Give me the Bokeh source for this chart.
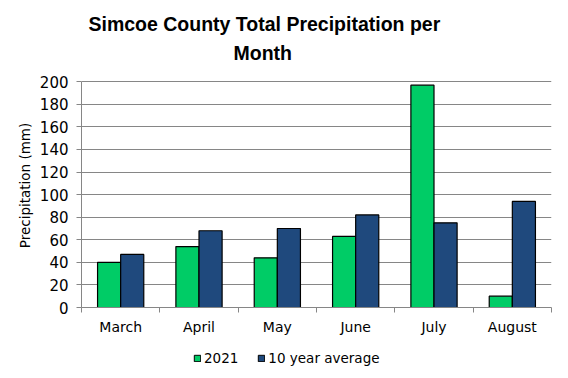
import numpy as np
from bokeh.plotting import figure
from bokeh.layouts import column
from bokeh.models import (ColumnDataSource, Range1d, FixedTicker, Title, Legend,
                          LegendItem)
from bokeh.embed import file_html
from bokeh.resources import INLINE

months = ["March", "April", "May", "June", "July", "August"]
precip_2021 = [40, 54, 44, 63, 197, 10]
precip_10yr = [47, 68, 70, 82, 75, 94]
y_ticks = [0, 20, 40, 60, 80, 100, 120, 140, 160, 180, 200]
series_names = ["2021", "10 year average"]

GREEN = "#00CC66"
BLUE = "#1F497D"
GRID = "#868686"
FONT = "DejaVu Sans"
TFONT = "Liberation Sans"

idx = np.arange(len(months))
bar_w = 0.295
src = ColumnDataSource(dict(
    x1=idx + 0.5 - bar_w / 2,
    x2=idx + 0.5 + bar_w / 2,
    v1=precip_2021,
    v2=precip_10yr,
))

p = figure(width=552, height=340, output_backend="svg", toolbar_location=None,
           x_range=Range1d(0, len(months)), y_range=Range1d(0, 216.2),
           min_border_left=81, min_border_right=1, min_border_top=63,
           min_border_bottom=33)
p.outline_line_color = None
p.background_fill_color = "white"
p.border_fill_color = "white"

p.vbar(x="x1", top="v1", width=bar_w, source=src, fill_color=GREEN,
       line_color="black", line_width=1.2)
p.vbar(x="x2", top="v2", width=bar_w, source=src, fill_color=BLUE,
       line_color="black", line_width=1.2)

# y axis
p.yaxis.ticker = FixedTicker(ticks=y_ticks)
p.yaxis.bounds = (0, 200)
p.yaxis.axis_line_color = GRID
p.yaxis.major_tick_line_color = GRID
p.yaxis.major_tick_out = 5
p.yaxis.major_tick_in = 0
p.yaxis.minor_tick_line_color = None
p.yaxis.major_label_text_font = FONT
p.yaxis.major_label_text_font_size = "15px"
p.yaxis.major_label_text_color = "black"
p.yaxis.major_label_standoff = 8
p.yaxis.axis_label = "Precipitation (mm)"
p.yaxis.axis_label_text_font = FONT
p.yaxis.axis_label_text_font_size = "13.5px"
p.yaxis.axis_label_text_font_style = "normal"
p.yaxis.axis_label_text_color = "black"
p.yaxis.axis_label_standoff = 4

# x axis: labels at centers, tick marks at category boundaries
p.xaxis.ticker = FixedTicker(ticks=list(idx + 0.5),
                             minor_ticks=list(range(len(months) + 1)))
p.xaxis.major_label_overrides = {float(i + 0.5): m for i, m in enumerate(months)}
p.xaxis.major_tick_line_color = None
p.xaxis.minor_tick_line_color = GRID
p.xaxis.minor_tick_out = 5
p.xaxis.minor_tick_in = 0
p.xaxis.axis_line_color = GRID
p.xaxis.major_label_text_font = FONT
p.xaxis.major_label_text_font_size = "14px"
p.xaxis.major_label_text_color = "black"
p.xaxis.major_label_standoff = 5

p.xgrid.grid_line_color = None
p.ygrid.grid_line_color = GRID
p.ygrid.ticker = FixedTicker(ticks=y_ticks)

# title (two lines; later-added titles sit further from the plot)
title_kw = dict(align="left", text_font=TFONT, text_font_style="bold",
                text_font_size="19.5px", text_color="black")
p.add_layout(Title(text="Month", offset=152, standoff=0, **title_kw), "above")
p.add_layout(Title(text="Simcoe County Total Precipitation per", offset=7,
                   standoff=10, **title_kw), "above")

# legend strip below the chart (its bars lie outside its visible range)
lg = figure(width=552, height=28, output_backend="svg", toolbar_location=None,
            x_range=Range1d(100, 101), y_range=Range1d(1000, 1001),
            x_axis_location=None, y_axis_location=None,
            min_border_left=0, min_border_right=0, min_border_top=0,
            min_border_bottom=0)
lg.outline_line_color = None
lg.grid.visible = False
lr1 = lg.vbar(x="x1", top="v1", width=bar_w, source=src, fill_color=GREEN,
              line_color="black", line_width=1)
lr2 = lg.vbar(x="x2", top="v2", width=bar_w, source=src, fill_color=BLUE,
              line_color="black", line_width=1)
legend = Legend(items=[LegendItem(label=series_names[0], renderers=[lr1]),
                       LegendItem(label=series_names[1], renderers=[lr2])],
                orientation="horizontal", location=(112, 2),
                glyph_width=8, glyph_height=8, label_standoff=3, spacing=19,
                padding=0, margin=0, border_line_color=None,
                background_fill_alpha=0,
                label_text_font=FONT, label_text_font_size="13.5px",
                label_text_color="black")
lg.add_layout(legend, "center")

layout = column(p, lg, spacing=0)
open("out.html", "w").write(file_html(layout, INLINE))
